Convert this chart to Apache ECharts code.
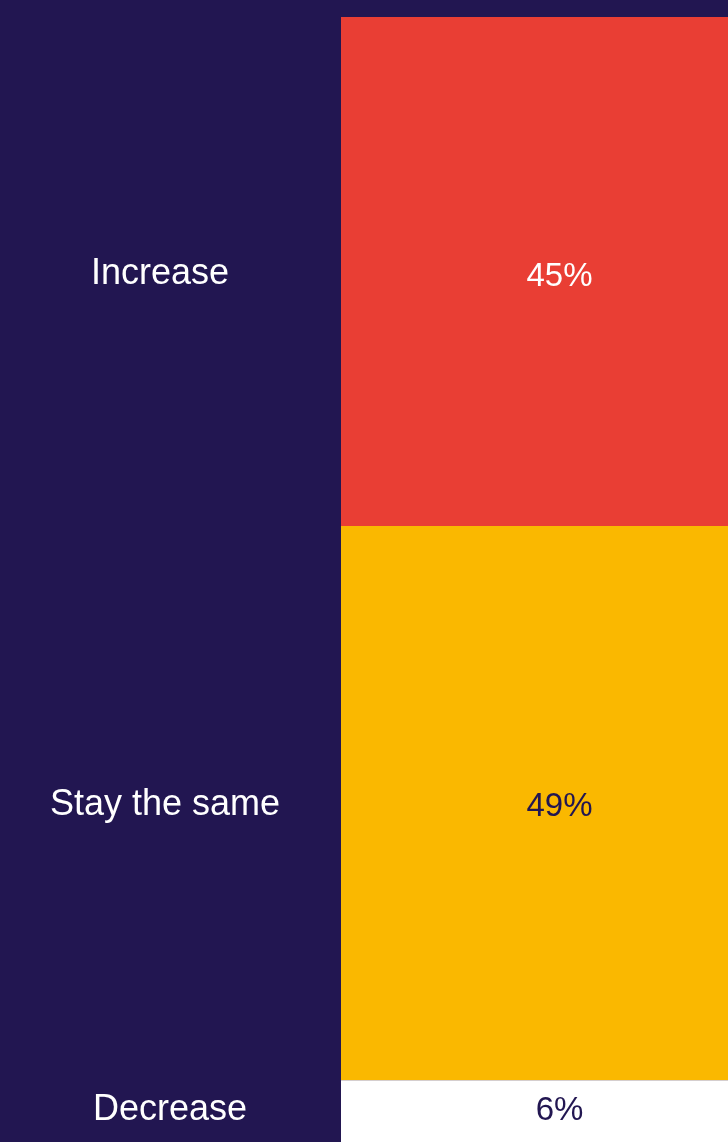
<!DOCTYPE html>
<html>
<head>
<meta charset="utf-8">
<title>Expected change</title>
<script src="https://cdn.jsdelivr.net/npm/echarts@6/dist/echarts.min.js"></script>
<style>
  html, body { margin: 0; padding: 0; background: #221651; overflow: hidden; }
  /* the bar runs a little past the right and bottom edges of the window */
  #chart { width: 778px; height: 1148px; }
</style>
</head>
<body>
<div id="chart"></div>
<script>
// Answer options, top to bottom, and their share of respondents (%)
const categories = ['Increase', 'Stay the same', 'Decrease'];
const shares = [45, 49, 6];

const segmentColors = ['#E93E34', '#FAB800', '#FFFFFF'];
const valueTextColors = ['#FFFFFF', '#221651', '#221651'];

const FONT = "'Liberation Sans', Arial, Helvetica, sans-serif";
const NAVY = '#221651';

// small per-row text nudges [dx, dy] for the name column and the value column
const nameNudge = [[-5, 3], [0, 2], [5, -4]];
const valueNudge = [[0, 5], [0, 4], [0, -3]];

const chart = echarts.init(document.getElementById('chart'), null, { renderer: 'canvas' });

// Two columns share the same stacked 0-100 scale: names on the left, the bar on the right.
const grids = [
  { left: 0, width: 330, top: 17, bottom: 0 },
  { left: 341, right: 0, top: 17, bottom: 0 }
];

const xAxes = grids.map((g, i) => ({
  type: 'category', gridIndex: i, data: ['all'], show: false
}));
const yAxes = grids.map((g, i) => ({
  type: 'value', gridIndex: i, min: 0, max: 100, inverse: true, show: false
}));

const series = [];
categories.forEach((name, i) => {
  // left column: category name centred beside its segment
  series.push({
    type: 'bar', name: name + ' label', xAxisIndex: 0, yAxisIndex: 0,
    stack: 'names', barWidth: '100%', silent: true,
    data: [shares[i]],
    itemStyle: { color: 'rgba(0,0,0,0)' },
    label: {
      show: true, position: 'inside', formatter: name, offset: nameNudge[i],
      color: '#FFFFFF', fontFamily: FONT, fontSize: 36
    }
  });
  // right column: the stacked share bar with its value
  series.push({
    type: 'bar', name: name, xAxisIndex: 1, yAxisIndex: 1,
    stack: 'shares', barWidth: '100%',
    data: [shares[i]],
    itemStyle: { color: segmentColors[i] },
    label: {
      show: true, position: 'inside', formatter: '{c}%', offset: valueNudge[i],
      color: valueTextColors[i], fontFamily: FONT, fontSize: 33
    }
  });
});

chart.setOption({
  backgroundColor: NAVY,
  animation: false,
  grid: grids,
  xAxis: xAxes,
  yAxis: yAxes,
  series: series
});
</script>
</body>
</html>
